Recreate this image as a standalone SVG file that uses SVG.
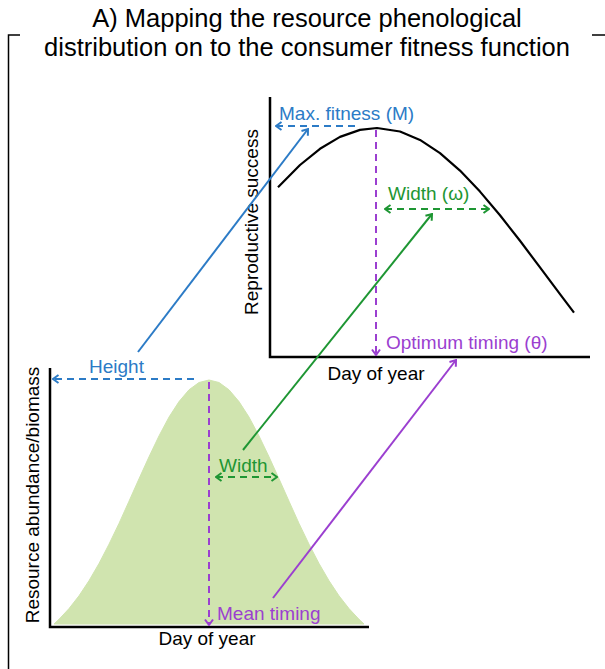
<svg xmlns="http://www.w3.org/2000/svg" width="605" height="669" viewBox="0 0 605 669">
<style>
text{font-family:"Liberation Sans",Arial,sans-serif;font-size:19px}
.title{font-size:25.5px;fill:#000}
.axis{fill:none;stroke:#000;stroke-width:2.5}
.dash{fill:none;stroke-width:2;stroke-dasharray:7,5}
.solid{fill:none;stroke-width:2}
.blue{stroke:#2c7bc6}
.green{stroke:#1e9633}
.purple{stroke:#9b3fd0}
.tb{fill:#2c7bc6}
.tg{fill:#1e9633}
.tp{fill:#9b3fd0}
</style>
<defs>
<marker id="mb" viewBox="-7 -5 8 10" markerWidth="8" markerHeight="10" refX="0" refY="0" markerUnits="userSpaceOnUse" orient="auto-start-reverse"><path d="M-5.5,-4 L0,0 L-5.5,4" fill="none" stroke="#2c7bc6" stroke-width="2"/></marker>
<marker id="mg" viewBox="-7 -5 8 10" markerWidth="8" markerHeight="10" refX="0" refY="0" markerUnits="userSpaceOnUse" orient="auto-start-reverse"><path d="M-5.5,-4 L0,0 L-5.5,4" fill="none" stroke="#1e9633" stroke-width="2"/></marker>
<marker id="mp" viewBox="-7 -5 8 10" markerWidth="8" markerHeight="10" refX="0" refY="0" markerUnits="userSpaceOnUse" orient="auto-start-reverse"><path d="M-5.5,-4 L0,0 L-5.5,4" fill="none" stroke="#9b3fd0" stroke-width="2"/></marker>
</defs>
<g id="frame">
<path d="M20,35 H8.5 V669 M592,35 H605" fill="none" stroke="#000" stroke-width="1.5"/>
<text class="title" x="307" y="27" text-anchor="middle">A) Mapping the resource phenological</text>
<text class="title" x="307" y="56" text-anchor="middle">distribution on to the consumer fitness function</text>
</g>
<g id="resource-plot">
<path d="M54,624 L59,619.3 L69,608.6 L79,595.8 L89,580.7 L99,563.5 L109,544.2 L119,523.4 L129,501.2 L139,478.8 L149,456.8 L159,435.9 L169,417.1 L179,401.6 L189,389.8 L199,382.5 L209,380 L219,382.5 L229,389.8 L239,401.6 L249,417.1 L259,435.9 L269,456.8 L279,478.8 L289,501.2 L299,523.4 L309,544.2 L319,563.5 L329,580.7 L339,595.8 L349,608.6 L359,619.3 L364,624 Z" fill="#d0e4af" stroke="#d0e4af" stroke-width="1" stroke-linejoin="round"/>
<path class="axis" d="M50,368 V627 H369"/>
<path class="dash blue" d="M194,379 H53" marker-end="url(#mb)"/>
<path class="dash purple" d="M209,382 V625" marker-end="url(#mp)"/>
<path class="dash green" d="M216,477 H277" marker-start="url(#mg)" marker-end="url(#mg)"/>
<text class="tb" x="89" y="373">Height</text>
<text class="tg" x="219" y="472">Width</text>
<text class="tp" x="217" y="620">Mean timing</text>
<text x="207" y="645" text-anchor="middle">Day of year</text>
<text transform="translate(38.5,495) rotate(-90)" text-anchor="middle">Resource abundance/biomass</text>
</g>
<g id="fitness-plot">
<path d="M278,187.2 L300,165 L320,148.8 L340,136.9 L360,129.9 L377,128 L400,131.5 L420,139.9 L440,153.2 L460,170.6 L480,191.6 L500,215.2 L520,240.8 L540,267.4 L560,294.1 L574,312.6" fill="none" stroke="#000" stroke-width="2.2" stroke-linejoin="round"/>
<path class="axis" d="M270,97 V357 H590"/>
<path class="dash blue" d="M355,126 H276" marker-end="url(#mb)"/>
<path class="dash purple" d="M376,130 V355" marker-end="url(#mp)"/>
<path class="dash green" d="M385,209 H489" marker-start="url(#mg)" marker-end="url(#mg)"/>
<text class="tb" x="279" y="120">Max. fitness (M)</text>
<text class="tg" x="388" y="200">Width (ω)</text>
<text class="tp" x="386" y="349">Optimum timing (θ)</text>
<text x="376" y="380" text-anchor="middle">Day of year</text>
<text transform="translate(258,222) rotate(-90)" text-anchor="middle">Reproductive success</text>
</g>
<g id="connectors">
<path class="solid blue" d="M138,352 L308,129" marker-end="url(#mb)"/>
<path class="solid green" d="M243,450 L432,214" marker-end="url(#mg)"/>
<path class="solid purple" d="M273,598 L456,360" marker-end="url(#mp)"/>
</g>
</svg>
